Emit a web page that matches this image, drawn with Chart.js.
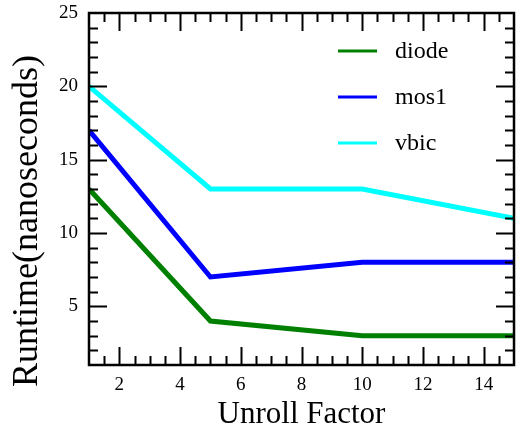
<!DOCTYPE html>
<html>
<head>
<meta charset="utf-8">
<script src="https://cdn.jsdelivr.net/npm/chart.js@4"></script>
<style>
  html, body { margin: 0; padding: 0; background: #fff; }
  #wrap { width: 517px; height: 430px; }
</style>
</head>
<body>
<div id="wrap"><canvas id="runtimeChart" width="517" height="430"></canvas></div>
<script>
/* Runtime vs unroll factor */
const unrollFactors = [1, 5, 10, 15];
const diodeRuntime = [13, 4, 3, 3];
const mos1Runtime  = [17, 7, 8, 8];
const vbicRuntime  = [20, 13, 13, 11];

const xTickVals = [2, 4, 6, 8, 10, 12, 14];
const yTickVals = [5, 10, 15, 20, 25];

const SERIF = '"Liberation Serif", "Times New Roman", serif';

const toPoints = ys => unrollFactors.map((x, i) => ({ x: x, y: ys[i] }));

/* ── inward ticks on all four sides + frame ───────────────────── */
const frameTicks = {
    id: 'frameTicks',
    afterDraw(chart) {
        const { ctx, chartArea: a, scales: { x, y } } = chart;
        ctx.save();
        ctx.strokeStyle = '#000';
        ctx.lineWidth = 2;
        ctx.beginPath();
        for (let v = 1.5; v < 15; v += 0.5) {
            const major = v % 2 === 0;
            const len = major ? 18 : 9;
            const px = Math.round(x.getPixelForValue(v)) + 0.5;
            ctx.moveTo(px, a.bottom); ctx.lineTo(px, a.bottom - len);
            ctx.moveTo(px, a.top);    ctx.lineTo(px, a.top + len);
        }
        for (let v = 2; v < 25; v += 1) {
            const major = v % 5 === 0;
            const len = major ? 18 : 9;
            const py = Math.round(y.getPixelForValue(v)) + 0.5;
            ctx.moveTo(a.left, py);  ctx.lineTo(a.left + len, py);
            ctx.moveTo(a.right, py); ctx.lineTo(a.right - len, py);
        }
        ctx.stroke();
        ctx.lineWidth = 2.5;
        ctx.strokeRect(a.left, a.top, a.right - a.left, a.bottom - a.top);
        ctx.restore();
    }
};

/* ── legend inside the plot, top right ─────────────────────────── */
const innerLegend = {
    id: 'innerLegend',
    afterDraw(chart) {
        const ctx = chart.ctx;
        ctx.save();
        ctx.font = '24px ' + SERIF;
        ctx.textBaseline = 'middle';
        ctx.fillStyle = '#000';
        chart.data.datasets.forEach((ds, i) => {
            const yy = 51 + i * 46;
            ctx.strokeStyle = ds.borderColor;
            ctx.lineWidth = 3;
            ctx.beginPath();
            ctx.moveTo(338, yy); ctx.lineTo(377, yy);
            ctx.stroke();
            ctx.fillText(ds.label, 395, yy + 1);
        });
        ctx.restore();
    }
};

/* ── y axis title (sits a bit below the axis centre) ───────────── */
const yTitle = {
    id: 'yTitle',
    afterDraw(chart) {
        const ctx = chart.ctx;
        ctx.save();
        ctx.translate(28, 221);
        ctx.rotate(-Math.PI / 2);
        ctx.font = '36px ' + SERIF;
        ctx.textAlign = 'center';
        ctx.textBaseline = 'middle';
        ctx.fillStyle = '#000';
        ctx.fillText('Runtime(nanoseconds)', 0, 0);
        ctx.restore();
    }
};

new Chart(document.getElementById('runtimeChart').getContext('2d'), {
    type: 'line',
    data: {
        datasets: [
            { label: 'diode', data: toPoints(diodeRuntime), borderColor: '#008000', backgroundColor: '#008000' },
            { label: 'mos1',  data: toPoints(mos1Runtime),  borderColor: '#0000ff', backgroundColor: '#0000ff' },
            { label: 'vbic',  data: toPoints(vbicRuntime),  borderColor: '#00ffff', backgroundColor: '#00ffff' }
        ]
    },
    options: {
        responsive: false,
        animation: false,
        devicePixelRatio: 1,
        layout: { padding: { top: 13, right: 3, left: 0, bottom: 0 } },
        elements: {
            line: { borderWidth: 5, tension: 0, fill: false },
            point: { radius: 0, hoverRadius: 0 }
        },
        plugins: {
            legend: { display: false },
            tooltip: { enabled: false }
        },
        scales: {
            x: {
                type: 'linear',
                min: 1,
                max: 15,
                afterBuildTicks: s => { s.ticks = xTickVals.map(v => ({ value: v })); },
                afterFit: s => { s.height = 65; s.paddingLeft = 0; s.paddingRight = 0; },
                grid: { display: false, drawTicks: false },
                border: { display: false },
                ticks: { color: '#000', padding: 9, font: { family: SERIF, size: 19 }, maxRotation: 0 },
                title: {
                    display: true,
                    text: 'Unroll Factor',
                    color: '#000',
                    padding: 0,
                    font: { family: SERIF, size: 31, lineHeight: 1 }
                }
            },
            y: {
                min: 1,
                max: 25,
                afterBuildTicks: s => { s.ticks = yTickVals.map(v => ({ value: v })); },
                afterFit: s => { s.width = 89; s.paddingTop = 0; s.paddingBottom = 0; },
                grid: { display: false, drawTicks: false },
                border: { display: false },
                ticks: { color: '#000', padding: 11, font: { family: SERIF, size: 19 } }
            }
        }
    },
    plugins: [frameTicks, innerLegend, yTitle]
});
</script>
</body>
</html>
